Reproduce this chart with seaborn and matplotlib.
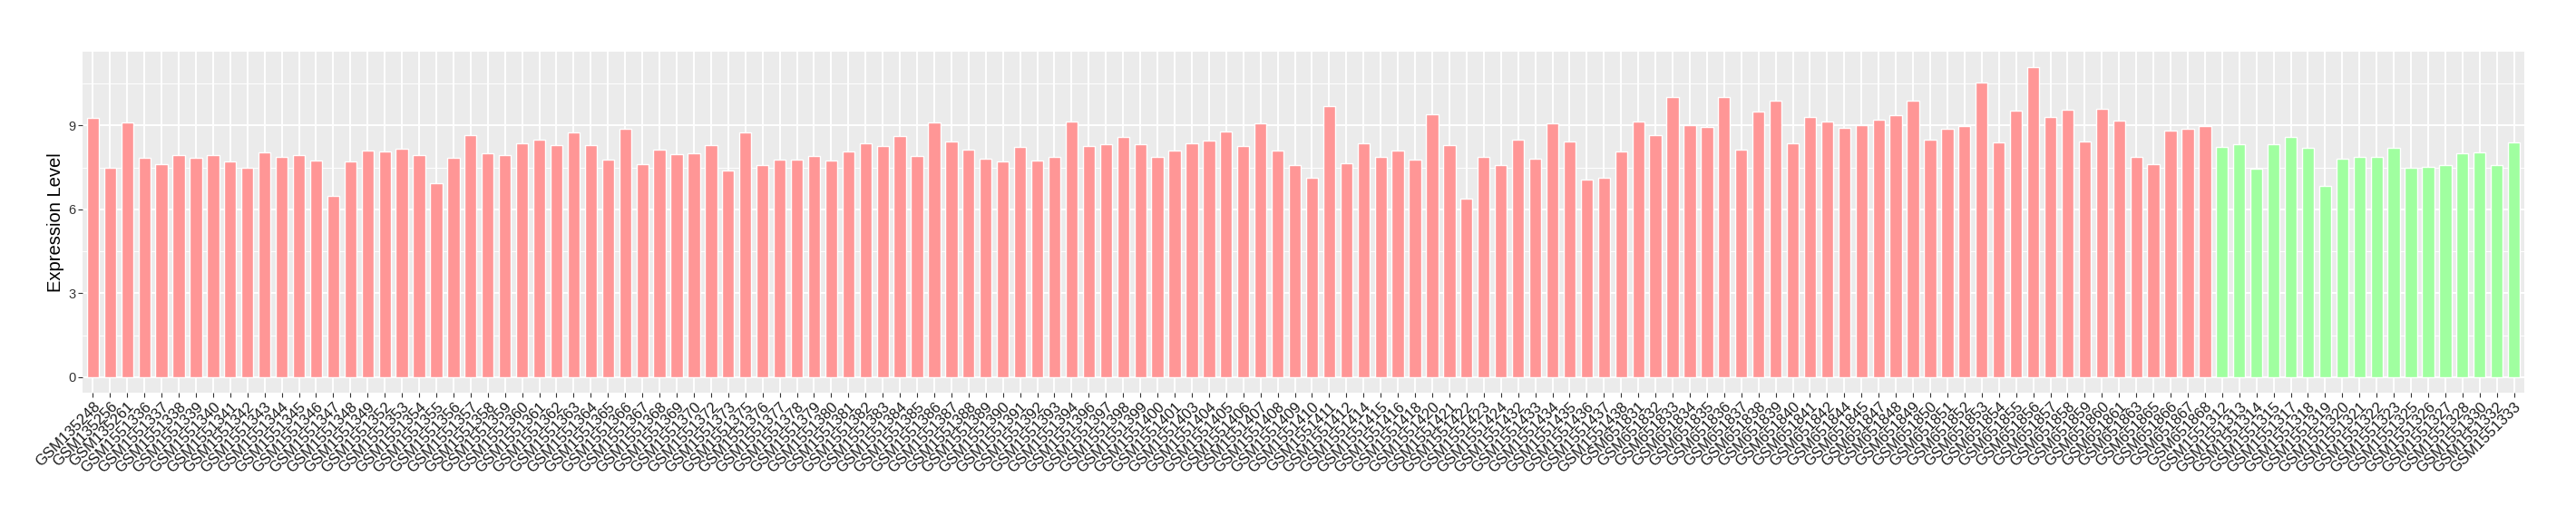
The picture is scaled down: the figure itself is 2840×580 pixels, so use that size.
import numpy as np
import pandas as pd
import matplotlib
matplotlib.use('Agg')
import matplotlib.pyplot as plt
import seaborn as sns
from matplotlib.ticker import MultipleLocator

# sample ids, in plotting order
case_ids = ['GSM135248', 'GSM135256', 'GSM135261',
            'GSM1551336', 'GSM1551337', 'GSM1551338', 'GSM1551339', 'GSM1551340', 'GSM1551341', 'GSM1551342',
            'GSM1551343', 'GSM1551344', 'GSM1551345', 'GSM1551346', 'GSM1551347', 'GSM1551348', 'GSM1551349',
            'GSM1551352', 'GSM1551353', 'GSM1551354', 'GSM1551355', 'GSM1551356', 'GSM1551357', 'GSM1551358',
            'GSM1551359', 'GSM1551360', 'GSM1551361', 'GSM1551362', 'GSM1551363', 'GSM1551364', 'GSM1551365',
            'GSM1551366', 'GSM1551367', 'GSM1551368', 'GSM1551369', 'GSM1551370', 'GSM1551372', 'GSM1551373',
            'GSM1551375', 'GSM1551376', 'GSM1551377', 'GSM1551378', 'GSM1551379', 'GSM1551380', 'GSM1551381',
            'GSM1551382', 'GSM1551383', 'GSM1551384', 'GSM1551385', 'GSM1551386', 'GSM1551387', 'GSM1551388',
            'GSM1551389', 'GSM1551390', 'GSM1551391', 'GSM1551392', 'GSM1551393', 'GSM1551394', 'GSM1551396',
            'GSM1551397', 'GSM1551398', 'GSM1551399', 'GSM1551400', 'GSM1551401', 'GSM1551403', 'GSM1551404',
            'GSM1551405', 'GSM1551406', 'GSM1551407', 'GSM1551408', 'GSM1551409', 'GSM1551410', 'GSM1551411',
            'GSM1551412', 'GSM1551414', 'GSM1551415', 'GSM1551416', 'GSM1551418', 'GSM1551420', 'GSM1551421',
            'GSM1551422', 'GSM1551423', 'GSM1551424', 'GSM1551432', 'GSM1551433', 'GSM1551434', 'GSM1551435',
            'GSM1551436', 'GSM1551437', 'GSM1551438',
            'GSM651831', 'GSM651832', 'GSM651833', 'GSM651834', 'GSM651835', 'GSM651836', 'GSM651837',
            'GSM651838', 'GSM651839', 'GSM651840', 'GSM651841', 'GSM651842', 'GSM651844', 'GSM651845',
            'GSM651847', 'GSM651848', 'GSM651849', 'GSM651850', 'GSM651851', 'GSM651852', 'GSM651853',
            'GSM651854', 'GSM651855', 'GSM651856', 'GSM651857', 'GSM651858', 'GSM651859', 'GSM651860',
            'GSM651861', 'GSM651863', 'GSM651865', 'GSM651866', 'GSM651867', 'GSM651868']

control_ids = ['GSM1551312', 'GSM1551313', 'GSM1551314', 'GSM1551315', 'GSM1551317', 'GSM1551318',
               'GSM1551319', 'GSM1551320', 'GSM1551321', 'GSM1551322', 'GSM1551323', 'GSM1551325',
               'GSM1551326', 'GSM1551327', 'GSM1551328', 'GSM1551330', 'GSM1551332', 'GSM1551333']

# expression levels
case_expr = [9.27, 7.49, 9.11, 7.84, 7.62, 7.94, 7.84, 7.94, 7.71, 7.49, 8.04, 7.88, 7.94, 7.75, 6.48,
             7.71, 8.10, 8.07, 8.17, 7.94, 6.94, 7.84, 8.65, 8.01, 7.94, 8.36, 8.49, 8.30, 8.75,
             8.30, 7.78, 8.88, 7.62, 8.14, 7.97, 8.01, 8.30, 7.39, 8.75, 7.59, 7.78, 7.78, 7.91,
             7.75, 8.07, 8.36, 8.27, 8.62, 7.91, 9.11, 8.43, 8.14, 7.81, 7.71, 8.23, 7.75, 7.88,
             9.14, 8.27, 8.33, 8.59, 8.33, 7.88, 8.10, 8.36, 8.46, 8.78, 8.27, 9.08, 8.10, 7.59,
             7.13, 9.69, 7.65, 8.36, 7.88, 8.10, 7.78, 9.40, 8.30, 6.39, 7.88, 7.59, 8.49, 7.81, 9.08,
             8.43, 7.07, 7.13, 8.07, 9.14, 8.65, 10.02, 9.01, 8.95, 10.02, 8.14, 9.50, 9.89, 8.36,
             9.30, 9.14, 8.91, 9.01, 9.21, 9.37, 9.89, 8.49, 8.88, 8.98, 10.53, 8.40, 9.53, 11.08,
             9.30, 9.56, 8.43, 9.59, 9.17, 7.88, 7.62, 8.82, 8.88, 8.98]

control_expr = [8.23, 8.33, 7.46, 8.33, 8.59, 8.20, 6.84, 7.81, 7.88, 7.88, 8.20, 7.49, 7.52, 7.59,
                8.01, 8.04, 7.59, 8.40]

df = pd.DataFrame({
    'sample': case_ids + control_ids,
    'expr': case_expr + control_expr,
    'group': ['case'] * len(case_ids) + ['control'] * len(control_ids),
})

sns.set_theme(style='darkgrid')
plt.rcParams['font.family'] = ['Liberation Sans', 'DejaVu Sans']

fig = plt.figure(figsize=(28.4, 5.8), dpi=100)
ax = fig.add_axes([91 / 2840, 1 - 433 / 580, (2783 - 91) / 2840, (433 - 57) / 580])

sns.barplot(data=df, x='sample', y='expr', hue='group',
            palette={'case': '#FF9696', 'control': '#A0FFA0'},
            width=0.7, dodge=False, legend=False, saturation=1, ax=ax)

n = len(df)
top = df['expr'].max()
ax.set_xlim(-0.6, n - 1 + 0.6)
ax.set_ylim(-0.05 * top, 1.05 * top)

ax.set_facecolor('#EBEBEB')
ax.yaxis.set_major_locator(MultipleLocator(3))
ax.yaxis.set_minor_locator(MultipleLocator(1.5))
ax.grid(which='major', color='white', linewidth=1.4)
ax.grid(which='minor', axis='y', color='white', linewidth=0.7)
ax.set_axisbelow(True)
for s in ax.spines.values():
    s.set_visible(False)

ax.tick_params(axis='both', which='major', length=3.5, width=0.8, color='#333333',
               bottom=True, left=True, pad=2)
ax.tick_params(axis='y', which='minor', length=0)
ax.tick_params(axis='y', labelsize=10.5, labelcolor='#333333')
ax.tick_params(axis='x', labelsize=12, labelcolor='#1A1A1A')
plt.setp(ax.get_xticklabels(), rotation=45, ha='right', rotation_mode='anchor')

ax.set_xlabel('')
ax.set_ylabel('Expression Level', fontsize=14.5, color='black', labelpad=3)

fig.savefig('out.png', dpi=100)
